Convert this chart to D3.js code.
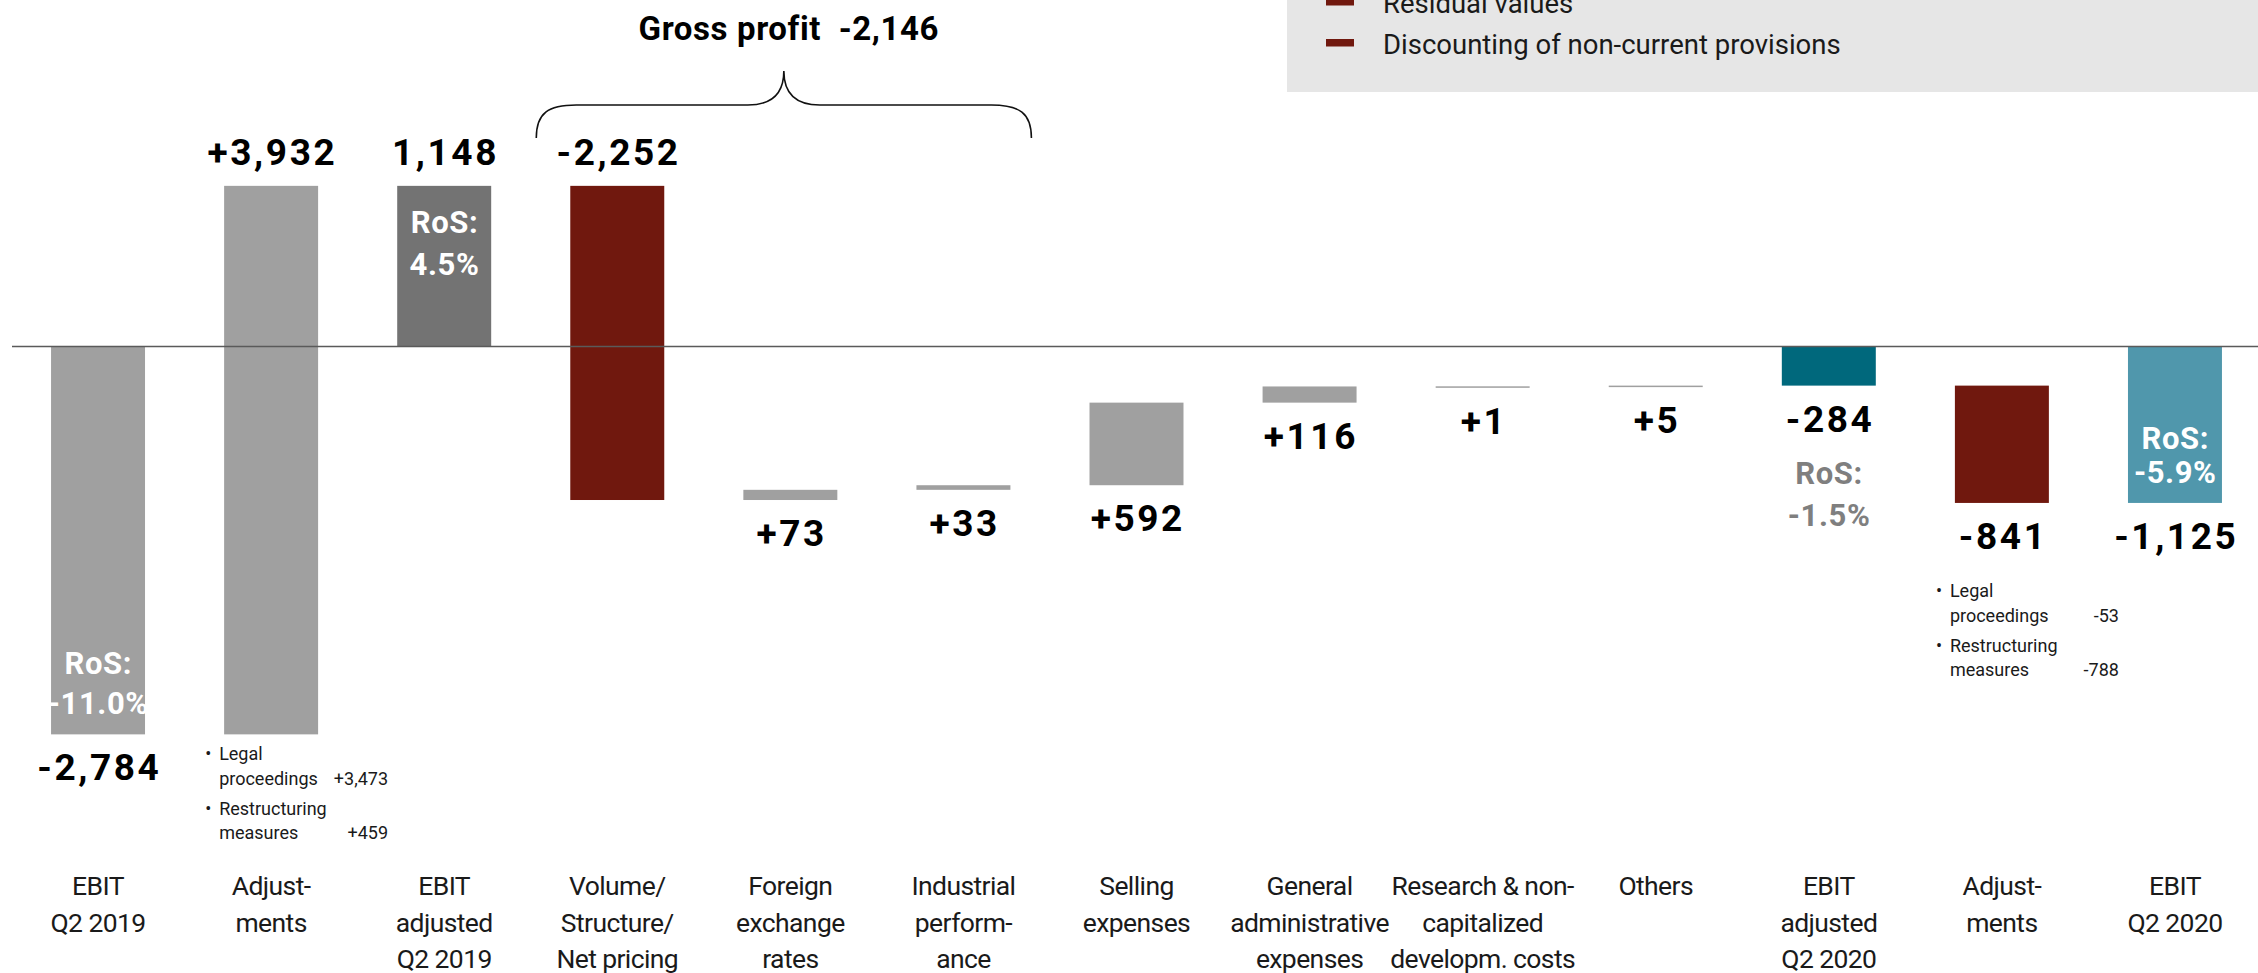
<!DOCTYPE html>
<html>
<head>
<meta charset="utf-8">
<script src="https://cdn.jsdelivr.net/npm/d3@7"></script>
<style>
  body { margin: 0; background: #fff; }
  svg { display: block; }
  text { font-family: Roboto, "Liberation Sans", sans-serif; }
</style>
</head>
<body>
<svg id="chart" width="2258" height="973"></svg>
<script>
// EBIT bridge Q2 2019 -> Q2 2020 (in millions)
const categories = [
  "EBIT|Q2 2019",
  "Adjust-|ments",
  "EBIT|adjusted|Q2 2019",
  "Volume/|Structure/|Net pricing",
  "Foreign|exchange|rates",
  "Industrial|perform-|ance",
  "Selling|expenses",
  "General|administrative|expenses",
  "Research & non-|capitalized|developm. costs",
  "Others",
  "EBIT|adjusted|Q2 2020",
  "Adjust-|ments",
  "EBIT|Q2 2020"
];
const values = [-2784, 3932, 1148, -2252, 73, 33, 592, 116, 1, 5, -284, -841, -1125];
const kinds  = ["total", "delta", "total", "delta", "delta", "delta", "delta",
                "delta", "delta", "delta", "total", "delta", "total"];
const tones  = ["grey", "grey", "dark", "red", "grey", "grey", "grey",
                "grey", "grey", "grey", "teal", "red", "lightTeal"];

// Return on sales notes attached to bars
const rosLabels = [
  { cat: 0,  lines: ["RoS:", "-11.0%"], place: "inside-bottom" },
  { cat: 2,  lines: ["RoS:", "4.5%"],   place: "inside-top" },
  { cat: 10, lines: ["RoS:", "-1.5%"],  place: "below-label" },
  { cat: 12, lines: ["RoS:", "-5.9%"],  place: "inside-bottom" }
];

// Breakdown of the adjustments
const adjustmentNotes = [
  { cat: 1,  items: [["Legal", "proceedings", "+3,473"], ["Restructuring", "measures", "+459"]] },
  { cat: 11, items: [["Legal", "proceedings", "-53"], ["Restructuring", "measures", "-788"]] }
];

// Categories grouped under the gross profit bracket
const grossProfitCats = [3, 4, 5];

const legendItems = ["Residual values", "Discounting of non-current provisions"];

const palette = {
  grey: "#a0a0a0",
  dark: "#737373",
  red: "#70180e",
  teal: "#00687c",
  lightTeal: "#5097ac"
};

const svg = d3.select("#chart");

// running totals for the waterfall
let run = 0;
const bars = values.map((v, i) => {
  let start, end;
  if (kinds[i] === "total") { start = 0; end = v; }
  else { start = run; end = run + v; }
  run = end;
  return { i, v, kind: kinds[i], start, end, tone: tones[i], lines: categories[i].split("|") };
});

const x = d3.scaleBand()
  .domain(d3.range(categories.length))
  .range([11.5, 2261.5])
  .paddingInner(0.457)
  .paddingOuter(0.2285);

const y = d3.scaleLinear().domain([-3000, 1500]).range([764.5, 136.75]);

const bw = x.bandwidth();
const barTop = d => y(Math.max(d.start, d.end));
const barBottom = d => Math.max(y(Math.min(d.start, d.end)), barTop(d) + 1.5);

// legend panel
const legend = svg.append("g");
legend.append("rect").attr("x", 1287).attr("y", 0).attr("width", 2258 - 1287).attr("height", 92).attr("fill", "#e6e6e6");
legendItems.forEach((t, k) => {
  const base = 13 + k * 41;
  legend.append("rect").attr("x", 1326).attr("y", base - 15).attr("width", 28).attr("height", 7.5).attr("fill", palette.red);
  legend.append("text").attr("x", 1383).attr("y", base).attr("font-size", 27.5).attr("fill", "#1a1a1a").text(t);
});

// bars
svg.append("g").selectAll("rect").data(bars).join("rect")
  .attr("x", d => x(d.i))
  .attr("y", barTop)
  .attr("width", bw)
  .attr("height", d => barBottom(d) - barTop(d))
  .attr("fill", d => palette[d.tone]);

// zero line
const axis = svg.append("g")
  .attr("transform", `translate(0,${y(0)})`)
  .call(d3.axisBottom(x).tickSize(0).tickSizeOuter(0).tickFormat(""));
axis.select(".domain").attr("stroke", "#5a5a5a").attr("stroke-width", 1.6);
axis.selectAll(".tick").remove();

// number formats with a plain hyphen as minus sign
const locale = d3.formatLocale({ decimal: ".", thousands: ",", grouping: [3], currency: ["", ""], minus: "-" });
const fmtTotal = locale.format(",");
const fmtDelta = locale.format("+,");

// value labels
const valueLS = 2.6;
const labelAbove = d => Math.max(d.start, d.end) > 0;
const labelBase = d => labelAbove(d) ? barTop(d) - 21 : barBottom(d) + 46;

svg.append("g").selectAll("text").data(bars).join("text")
  .attr("x", d => x(d.i) + bw / 2 + valueLS / 2)
  .attr("y", labelBase)
  .attr("text-anchor", "middle")
  .attr("font-size", 37)
  .attr("font-weight", 700)
  .attr("letter-spacing", valueLS)
  .attr("fill", "#000")
  .text(d => d.kind === "total" ? fmtTotal(d.v) : fmtDelta(d.v));

// RoS annotations
rosLabels.forEach(r => {
  const d = bars[r.cat];
  const cx = x(d.i) + bw / 2;
  let first, lead, color = "#fff";
  if (r.place === "inside-top") { first = barTop(d) + 47; lead = 42; }
  else if (r.place === "inside-bottom") {
    lead = (barBottom(d) - barTop(d)) > 250 ? 40 : 34;
    first = barBottom(d) - 20 - lead * (r.lines.length - 1);
  } else { first = labelBase(d) + 52; lead = 42; color = "#7f7f7f"; }
  r.lines.forEach((t, k) => {
    svg.append("text")
      .attr("x", cx + 0.3).attr("y", first + k * lead)
      .attr("text-anchor", "middle")
      .attr("font-size", 31).attr("font-weight", 700)
      .attr("letter-spacing", 0.6)
      .attr("fill", color)
      .text(t);
  });
});

// adjustment breakdown notes
const noteOffsets = [0, 25, 55, 79];
adjustmentNotes.forEach(n => {
  const d = bars[n.cat];
  const left = x(d.i), right = x(d.i) + bw;
  const start = labelAbove(d) ? barBottom(d) + 26 : labelBase(d) + 48;
  const g = svg.append("g").attr("font-size", 18).attr("fill", "#1a1a1a");
  n.items.forEach((item, k) => {
    const b1 = start + noteOffsets[k * 2], b2 = start + noteOffsets[k * 2 + 1];
    g.append("text").attr("x", left - 19).attr("y", b1).text("\u2022");
    g.append("text").attr("x", left - 5).attr("y", b1).text(item[0]);
    g.append("text").attr("x", left - 5).attr("y", b2).text(item[1]);
    g.append("text").attr("x", right + 70).attr("y", b2).attr("text-anchor", "end").text(item[2]);
  });
});

// category labels
const catG = svg.append("g").attr("font-size", 26.5).attr("letter-spacing", -0.6).attr("fill", "#1a1a1a");
bars.forEach(d => {
  d.lines.forEach((t, k) => {
    catG.append("text")
      .attr("x", x(d.i) + bw / 2)
      .attr("y", 895 + k * 36.5)
      .attr("text-anchor", "middle")
      .text(t);
  });
});

// gross profit bracket
const gp = d3.sum(grossProfitCats, i => values[i]);
const bx0 = x(grossProfitCats[0]) - 34;
const bx1 = x(grossProfitCats[grossProfitCats.length - 1]) + bw + 21;
const tip = (bx0 + bx1) / 2;
const yEnd = 138, yMid = 105, yTip = 71;
const brace = d3.path();
brace.moveTo(bx0, yEnd);
brace.bezierCurveTo(bx0, yMid + 8, bx0 + 12, yMid, bx0 + 40, yMid);
brace.lineTo(tip - 36, yMid);
brace.bezierCurveTo(tip - 14, yMid, tip, yMid - 10, tip, yTip);
brace.bezierCurveTo(tip, yMid - 10, tip + 14, yMid, tip + 36, yMid);
brace.lineTo(bx1 - 40, yMid);
brace.bezierCurveTo(bx1 - 12, yMid, bx1, yMid + 8, bx1, yEnd);
svg.append("path").attr("d", brace.toString()).attr("fill", "none").attr("stroke", "#111").attr("stroke-width", 1.6);

svg.append("text")
  .attr("x", tip + 5).attr("y", 40)
  .attr("text-anchor", "middle")
  .attr("font-size", 33).attr("font-weight", 700)
  .attr("letter-spacing", 0.6)
  .style("white-space", "pre")
  .attr("fill", "#000")
  .text("Gross profit  " + fmtTotal(gp));
</script>
</body>
</html>
